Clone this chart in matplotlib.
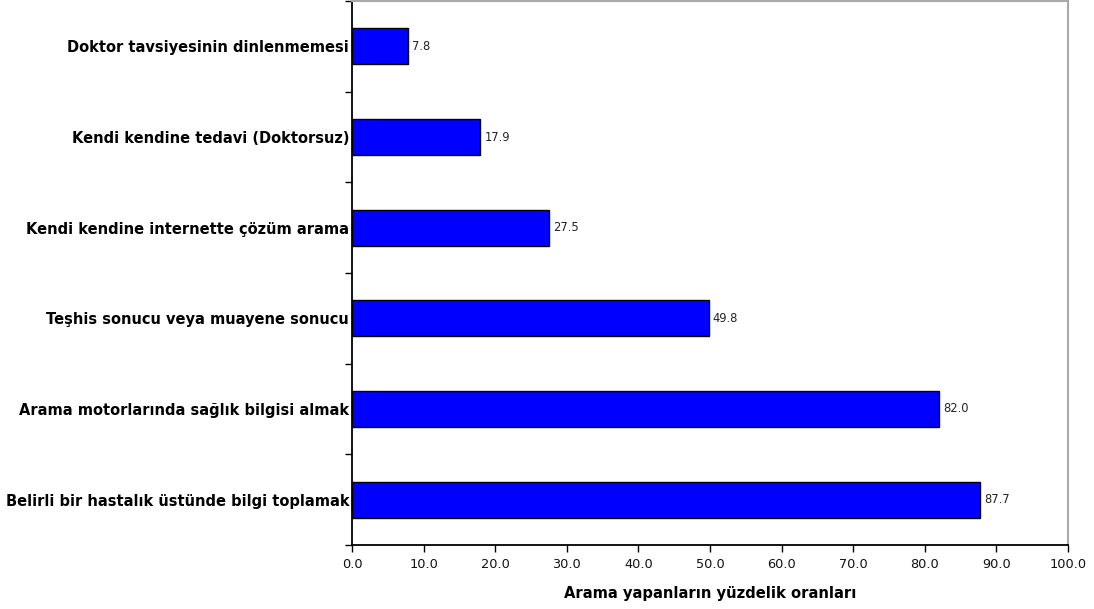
import matplotlib
matplotlib.use("Agg")
import matplotlib.pyplot as plt
import numpy as np

categories = [
    "Belirli bir hastalık üstünde bilgi toplamak",
    "Arama motorlarında sağlık bilgisi almak",
    "Teşhis sonucu veya muayene sonucu",
    "Kendi kendine internette çözüm arama",
    "Kendi kendine tedavi (Doktorsuz)",
    "Doktor tavsiyesinin dinlenmemesi",
]
values = [87.7, 82.0, 49.8, 27.5, 17.9, 7.8]
x_ticks = [0, 10, 20, 30, 40, 50, 60, 70, 80, 90, 100]
x_label = "Arama yapanların yüzdelik oranları"

plt.rcParams["font.family"] = ["DejaVu Sans"]

fig = plt.figure(figsize=(10.94, 6.09), dpi=100)
ax = fig.add_axes([352 / 1094, 1 - 545 / 609, (1068 - 352) / 1094, 544 / 609])

pos = np.arange(len(categories))
ax.barh(pos, values, height=0.4, color="#0000FF", edgecolor="black", linewidth=1.0)

for p, v in zip(pos, values):
    ax.text(v + 0.6, p, f"{v:.1f}", va="center", ha="left", fontsize=8.3, color="#222222")

ax.set_xlim(0, 100)
ax.set_ylim(-0.5, len(categories) - 0.5)
ax.set_xticks(x_ticks)
ax.set_xticklabels([f"{t:.1f}" for t in x_ticks], fontsize=9.3, color="#111111")
ax.set_yticks(pos)
ax.set_yticklabels(categories, fontsize=10.5, fontweight="bold")
ax.tick_params(axis="y", which="major", length=0, pad=2)
ax.set_yticks(np.arange(-0.5, len(categories), 1.0), minor=True)
ax.tick_params(axis="y", which="minor", length=5, width=1, direction="out")
ax.tick_params(axis="x", length=5, width=1, direction="out", pad=4)

for side in ("left", "bottom"):
    ax.spines[side].set_color("black")
    ax.spines[side].set_linewidth(1.3)
for side in ("top", "right"):
    ax.spines[side].set_color("#aaaaaa")
    ax.spines[side].set_linewidth(1.5)

ax.set_xlabel(x_label, fontsize=10.6, fontweight="bold", labelpad=11)

fig.savefig("out.png", dpi=100)
